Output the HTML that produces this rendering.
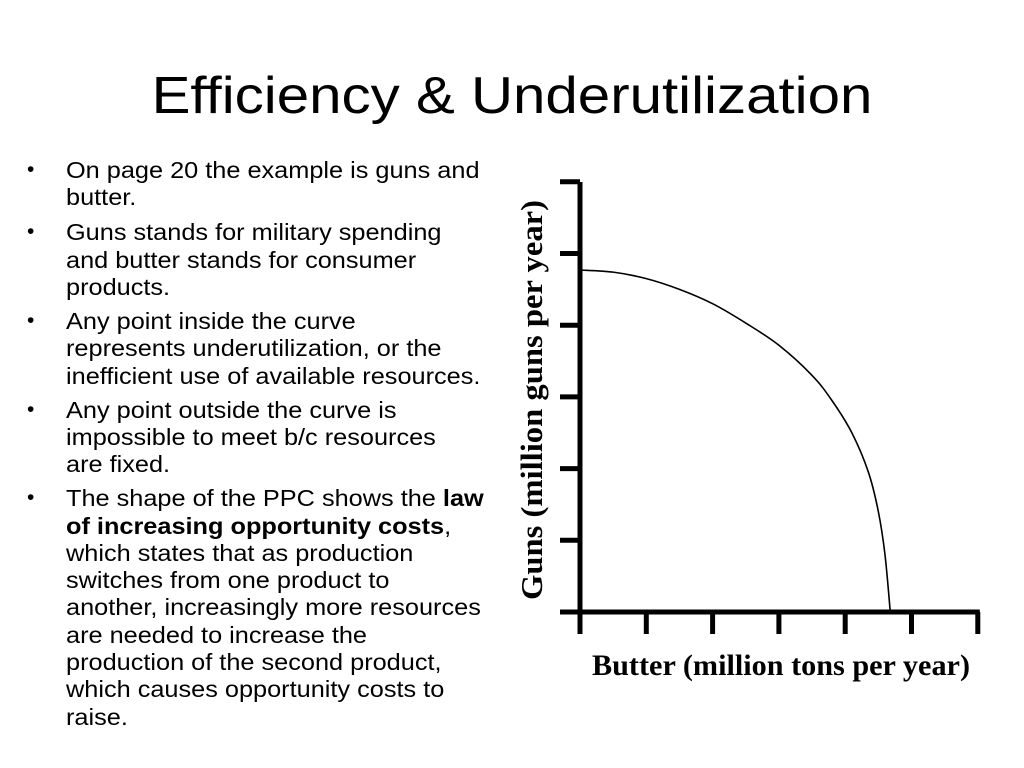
<!DOCTYPE html>
<html><head><meta charset="utf-8"><style>
html,body{margin:0;padding:0;background:#fff;}
body{width:1024px;height:768px;position:relative;overflow:hidden;font-family:"Liberation Sans",sans-serif;color:#000;}
.title{position:absolute;left:0;width:1024px;top:66px;text-align:center;font-size:52px;line-height:60px;transform:scaleX(1.12);transform-origin:512px 0;}
.ln{position:absolute;left:66px;font-size:23px;line-height:28px;white-space:nowrap;transform:scaleX(1.1);transform-origin:0 0;}
.bul{position:absolute;left:27px;font-size:21px;line-height:28px;}
</style></head><body>
<div class="title">Efficiency &amp; Underutilization</div>
<div>
<div class="bul" style="top:156px">•</div>
<div class="ln" style="top:156px">On page 20 the example is guns and</div>
<div class="ln" style="top:183px">butter.</div>
<div class="bul" style="top:218px">•</div>
<div class="ln" style="top:218px">Guns stands for military spending</div>
<div class="ln" style="top:246px">and butter stands for consumer</div>
<div class="ln" style="top:273px">products.</div>
<div class="bul" style="top:307px">•</div>
<div class="ln" style="top:307px">Any point inside the curve</div>
<div class="ln" style="top:334px">represents underutilization, or the</div>
<div class="ln" style="top:362px">inefficient use of available resources.</div>
<div class="bul" style="top:396px">•</div>
<div class="ln" style="top:396px">Any point outside the curve is</div>
<div class="ln" style="top:423px">impossible to meet b/c resources</div>
<div class="ln" style="top:450px">are fixed.</div>
<div class="bul" style="top:484px">•</div>
<div class="ln" style="top:484px">The shape of the PPC shows the <b>law</b></div>
<div class="ln" style="top:512px"><b>of increasing opportunity costs</b>,</div>
<div class="ln" style="top:539px">which states that as production</div>
<div class="ln" style="top:566px">switches from one product to</div>
<div class="ln" style="top:593px">another, increasingly more resources</div>
<div class="ln" style="top:621px">are needed to increase the</div>
<div class="ln" style="top:648px">production of the second product,</div>
<div class="ln" style="top:675px">which causes opportunity costs to</div>
<div class="ln" style="top:703px">raise.</div>
</div>
<svg id="chart" width="1024" height="768" style="position:absolute;left:0;top:0"></svg>
<script>
const butterValues = [0, 0.5, 1, 1.5, 2, 2.5, 3, 3.5, 3.8, 4.1, 4.35, 4.5, 4.6, 4.68];
const gunsValues = [4.77, 4.74, 4.65, 4.5, 4.3, 4.03, 3.72, 3.3, 2.95, 2.5, 1.95, 1.4, 0.8, 0];
const xTicks = [0, 1, 2, 3, 4, 5, 6];
const yTicks = [0, 1, 2, 3, 4, 5, 6];
const X0 = 580, Y0 = 612, XS = 66.3, YS = 71.7;
const xs = v => X0 + v * XS;
const ys = v => Y0 - v * YS;
const NS = "http://www.w3.org/2000/svg";
const svg = document.getElementById('chart');
function mk(tag, attrs){const e=document.createElementNS(NS,tag);for(const k in attrs)e.setAttribute(k,attrs[k]);svg.appendChild(e);return e;}
const ya = mk('line',{x1:X0,y1:182,x2:X0,y2:Y0,stroke:'#000','stroke-width':5});


const xa = mk('line',{x1:560,y1:Y0,x2:xs(6)+2,y2:Y0,stroke:'#000','stroke-width':5});


xTicks.forEach(t=>{
  const l = mk('line',{x1:xs(t),y1:Y0,x2:xs(t),y2:634,stroke:'#000','stroke-width':5});
  
  
});
yTicks.forEach(t=>{
  if(t===0) return;
  const l = mk('line',{x1:560,y1:ys(t),x2:X0,y2:ys(t),stroke:'#000','stroke-width':5});
  
  
});
const pts = butterValues.map((b,i)=>[xs(b), ys(gunsValues[i])]);
let d = 'M'+pts[0][0]+','+pts[0][1];
for(let i=0;i<pts.length-1;i++){
  const p0=pts[Math.max(0,i-1)],p1=pts[i],p2=pts[i+1],p3=pts[Math.min(pts.length-1,i+2)];
  const c1=[p1[0]+(p2[0]-p0[0])/6,p1[1]+(p2[1]-p0[1])/6];
  const c2=[p2[0]-(p3[0]-p1[0])/6,p2[1]-(p3[1]-p1[1])/6];
  d+=' C'+c1[0]+','+c1[1]+' '+c2[0]+','+c2[1]+' '+p2[0]+','+p2[1];
}
const curve = mk('path',{d:d,fill:'none',stroke:'#000','stroke-width':1.6});


const xt = mk('text',{x:592,y:675,'font-family':'Liberation Serif, serif','font-weight':'bold','font-size':30,textLength:378,lengthAdjust:'spacingAndGlyphs'});
xt.textContent='Butter (million tons per year)';


const yt = mk('text',{x:-200,y:0,'font-family':'Liberation Serif, serif','font-weight':'bold','font-size':31,textLength:400,lengthAdjust:'spacingAndGlyphs',transform:'translate(542,400) rotate(-90)'});
yt.textContent='Guns (million guns per year)';


</script>
</body></html>
